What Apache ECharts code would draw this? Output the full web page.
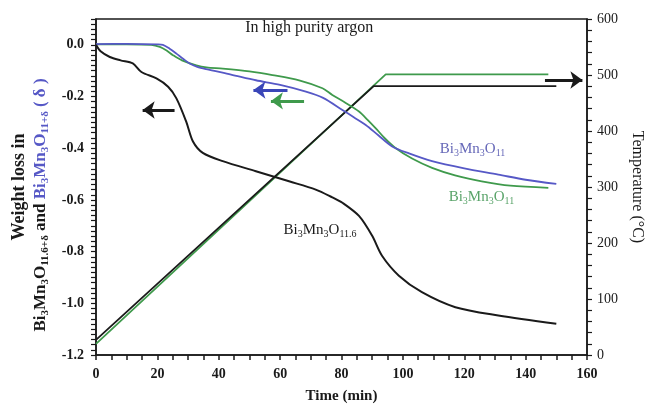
<!DOCTYPE html>
<html>
<head>
<meta charset="utf-8">
<script src="https://cdn.jsdelivr.net/npm/echarts@6/dist/echarts.min.js"></script>
<style>
  html, body { margin: 0; padding: 0; background: #fff; }
  #chart { width: 653px; height: 409px; }
</style>
</head>
<body>
<div id="chart"></div>
<script>
// weight loss curves (time in min, delta)
const timeBlack = [0, 1.5, 4.5, 8, 12, 14.8, 19.7, 23.5, 26.2, 29.4, 31.6, 34.8, 41.3, 52.1, 62.9, 71.6, 77, 80.3, 85.7, 90, 93.2, 98.7, 106.2, 117.1, 131.1, 150]
const lossBlack = [0, -0.025, -0.047, -0.06, -0.072, -0.105, -0.13, -0.162, -0.207, -0.297, -0.374, -0.418, -0.45, -0.489, -0.528, -0.56, -0.59, -0.611, -0.662, -0.739, -0.816, -0.893, -0.957, -1.015, -1.047, -1.079]

const timeBlue = [0, 10, 20, 21.8, 24, 26.2, 28.5, 30.5, 33, 35.9, 44, 52.1, 60, 68.4, 74, 80.3, 84, 87.9, 92, 96.5, 102, 109.5, 120, 131.1, 140, 150]
const lossBlue = [0.003, 0.004, 0.002, 0, -0.015, -0.034, -0.055, -0.072, -0.085, -0.094, -0.115, -0.137, -0.155, -0.181, -0.205, -0.252, -0.28, -0.31, -0.35, -0.393, -0.42, -0.45, -0.478, -0.502, -0.522, -0.538]

const timeGreen = [0, 10, 18, 20.8, 23, 25.1, 28, 32.7, 36, 41.3, 50, 57.5, 66.2, 73.8, 77, 81, 85.7, 88.5, 91.1, 94, 97.6, 103, 109.5, 117, 125.7, 135, 147.4]
const lossGreen = [0.002, 0.002, 0, -0.008, -0.022, -0.04, -0.06, -0.079, -0.087, -0.092, -0.103, -0.117, -0.137, -0.168, -0.194, -0.222, -0.258, -0.29, -0.322, -0.36, -0.399, -0.44, -0.476, -0.505, -0.528, -0.545, -0.553]

// temperature programs (right axis)
const tempTimeBlack = [0, 90.5, 150]
const tempBlack = [27, 480, 480]
const tempTimeGreen = [0, 94.4, 147.4]
const tempGreen = [20, 501, 501]

const serif = 'Liberation Serif'
const BLACK = '#1a1a1a'
const BLUE = '#5658c6'
const GREEN = '#3f9a4c'

const pairs = (xs, ys) => xs.map((x, i) => [x, ys[i]])

//化学式的富文本
const formula = (style, sub, tail) =>
  `{${style}|Bi}{${sub}|3}{${style}|Mn}{${sub}|3}{${style}|O}{${sub}|${tail}}`

const subRich = (color, size, bold) => ({
  n: { fontFamily: serif, fontSize: size, color: color, fontWeight: bold ? 'bold' : 'normal', verticalAlign: 'top', padding: [0, 0, 2, 0] },
  s: { fontFamily: serif, fontSize: Math.round(size * 0.65), color: color, fontWeight: bold ? 'bold' : 'normal', verticalAlign: 'bottom' },
})

const textMark = (coord, text, rich) => ({
  coord: coord,
  symbolSize: 0,
  label: { show: true, position: 'inside', formatter: text, rich: rich },
})

const arrow = (from, to, color) => [
  { coord: from, lineStyle: { color: color, width: 3, type: 'solid' } },
  { coord: to },
]

const arrowLine = (list, color) => ({
  silent: true,
  animation: false,
  symbol: ['none', 'arrow'],
  symbolSize: [13, 12],
  label: { show: false },
  lineStyle: { color: color, width: 3, type: 'solid' },
  data: list,
})

const mycharts = echarts.init(document.getElementById('chart'), null, { renderer: 'canvas' })

mycharts.setOption({
  animation: false,
  backgroundColor: '#fff',
  grid: {
    left: 96,
    right: 64,
    top: 19,
    bottom: 53,
    show: true,
    borderColor: BLACK,
    borderWidth: 1.5,
  },
  xAxis: {
    type: 'value',
    min: 0,
    max: 160,
    interval: 20,
    name: 'Time (min)',
    nameLocation: 'middle',
    nameGap: 34,
    nameTextStyle: { fontFamily: serif, fontSize: 15, fontWeight: 'bold', color: BLACK },
    axisLine: { show: true, onZero: false, lineStyle: { color: BLACK, width: 1.5 } },
    axisTick: { show: true, length: 5, lineStyle: { color: BLACK, width: 1.5 } },
    minorTick: { show: true, splitNumber: 4, length: 5, lineStyle: { color: BLACK, width: 1.5 } },
    axisLabel: { fontFamily: serif, fontSize: 14, fontWeight: 'bold', color: BLACK, margin: 12 },
    splitLine: { show: false },
  },
  yAxis: [
    {
      type: 'value',
      min: -1.2,
      max: 0.1,
      interval: 0.1,
      position: 'left',
      name: '{t|Weight loss in}\n' +
        formula('b', 'bs', '11.6+δ') + '{b| and }' + formula('u', 'us', '11+δ') + '{ue|( δ )}',
      nameLocation: 'middle',
      nameGap: 35,
      nameTextStyle: {
        rich: {
          t: { fontFamily: serif, fontSize: 18, fontWeight: 'bold', color: BLACK, lineHeight: 26 },
          b: subRich(BLACK, 17, true).n,
          bs: subRich(BLACK, 17, true).s,
          u: subRich(BLUE, 17, true).n,
          us: subRich(BLUE, 17, true).s,
          ue: Object.assign({}, subRich(BLUE, 17, true).n, { padding: [0, 36, 2, 4] }),
        },
      },
      axisLine: { show: true, onZero: false, lineStyle: { color: BLACK, width: 1.5 } },
      axisTick: { show: true, length: 5, lineStyle: { color: BLACK, width: 1.2 } },
      minorTick: { show: true, splitNumber: 5, length: 5, lineStyle: { color: BLACK, width: 1.2 } },
      axisLabel: {
        fontFamily: serif,
        fontSize: 14,
        fontWeight: 'bold',
        color: BLACK,
        margin: 12,
        formatter: (v) => {
          const r = Math.round(v * 10)
          if (Math.abs(r) % 2 === 1) return ''
          return r === 0 ? '0.0' : (r / 10).toFixed(1)
        },
      },
      splitLine: { show: false },
    },
    {
      type: 'value',
      min: 0,
      max: 600,
      interval: 100,
      position: 'right',
      name: 'Temperature (°C)',
      nameLocation: 'middle',
      nameRotate: -90,
      nameGap: 42,
      nameTextStyle: { fontFamily: serif, fontSize: 16, color: BLACK },
      axisLine: { show: true, onZero: false, lineStyle: { color: BLACK, width: 1.5 } },
      axisTick: { show: true, length: 5, lineStyle: { color: BLACK, width: 1.2 } },
      minorTick: { show: true, splitNumber: 5, length: 5, lineStyle: { color: BLACK, width: 1.2 } },
      axisLabel: { fontFamily: serif, fontSize: 14, color: BLACK, margin: 10 },
      splitLine: { show: false },
    },
  ],
  series: [
    {
      name: 'T green',
      type: 'line',
      yAxisIndex: 1,
      data: pairs(tempTimeGreen, tempGreen),
      showSymbol: false,
      lineStyle: { color: GREEN, width: 1.8 },
    },
    {
      name: 'T black',
      type: 'line',
      yAxisIndex: 1,
      data: pairs(tempTimeBlack, tempBlack),
      showSymbol: false,
      lineStyle: { color: BLACK, width: 1.8 },
      markLine: arrowLine([arrow([146.3, 491], [158.5, 491], BLACK)], BLACK),
    },
    {
      name: 'Bi3Mn3O11 green',
      type: 'line',
      data: pairs(timeGreen, lossGreen),
      smooth: 0.3,
      showSymbol: false,
      lineStyle: { color: GREEN, width: 1.8 },
      markLine: arrowLine([arrow([67.8, -0.217], [57, -0.217], GREEN)], GREEN),
      markPoint: {
        silent: true,
        animation: false,
        data: [textMark([125.6, -0.594], formula('n', 's', '11'), subRich('#5aa46a', 15, false))],
      },
    },
    {
      name: 'Bi3Mn3O11 blue',
      type: 'line',
      data: pairs(timeBlue, lossBlue),
      smooth: 0.3,
      showSymbol: false,
      lineStyle: { color: BLUE, width: 1.8 },
      markLine: arrowLine([arrow([62.4, -0.175], [51.3, -0.175], '#3a46b8')], '#3a46b8'),
      markPoint: {
        silent: true,
        animation: false,
        data: [textMark([122.7, -0.406], formula('n', 's', '11'), subRich('#6668b8', 15, false))],
      },
    },
    {
      name: 'Bi3Mn3O11.6',
      type: 'line',
      data: pairs(timeBlack, lossBlack),
      smooth: 0.3,
      showSymbol: false,
      lineStyle: { color: BLACK, width: 2 },
      markLine: arrowLine([arrow([25.6, -0.252], [15.2, -0.252], BLACK)], BLACK),
      markPoint: {
        silent: true,
        animation: false,
        data: [
          textMark([73, -0.72], formula('n', 's', '11.6'), subRich(BLACK, 15, false)),
          textMark([69.5, 0.067], '{p|In high purity argon}', {
            p: { fontFamily: serif, fontSize: 16, color: BLACK },
          }),
        ],
      },
    },
  ],
})
</script>
</body>
</html>
